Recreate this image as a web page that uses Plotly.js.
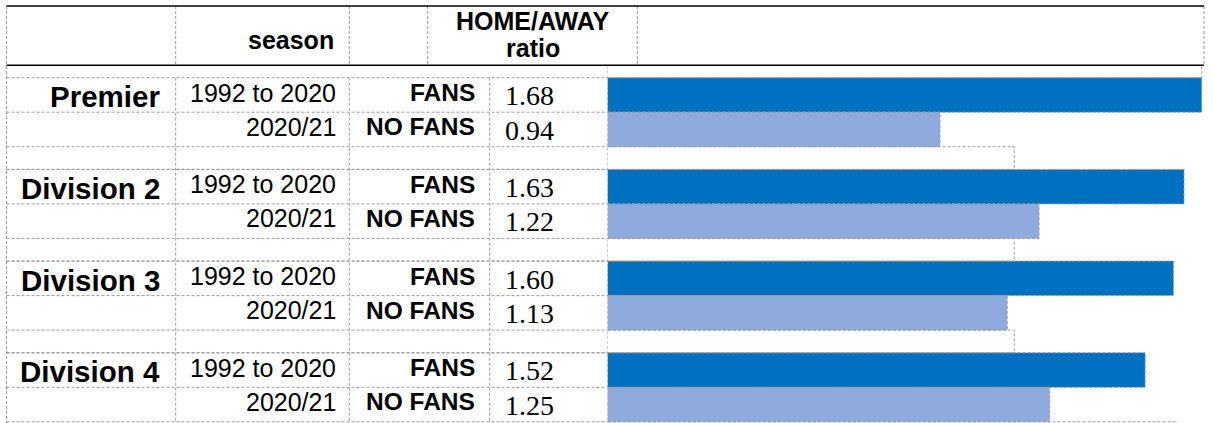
<!DOCTYPE html>
<html><head><meta charset="utf-8">
<script src="https://cdn.plot.ly/plotly-3.0.1.min.js"></script>
<style>html,body{margin:0;padding:0;background:#fff;} #chart{width:1213px;height:423px;}</style>
</head><body><div id="chart"></div>
<script>
// ---- data ----
const divisions = ['Premier', 'Division 2', 'Division 3', 'Division 4'];
const seasons = ['1992 to 2020', '2020/21'];
const crowdLabels = ['FANS', 'NO FANS'];
const fansRatio = [1.68, 1.63, 1.60, 1.52];
const noFansRatio = [0.94, 1.22, 1.13, 1.25];
const spacerValues = [1.68, 1.15, 1.15, 1.15, 1.61];
const headerSeason = 'season';
const headerRatio = ['HOME/AWAY', 'ratio'];

// ---- geometry / style ----
const W = 1213, H = 423;
const HEAD_TOP = 6, HEAD_BOT = 65.3, BODY_TOP = 77.7, ROW_H = 34.5, GAP_H = 22.7;
const GROUP_H = 2 * ROW_H + GAP_H;
const BAR_X0 = 607.5, PX_PER_UNIT = 353.7;
const COL = { left: 6.5, c1: 175.7, c2: 349.3, c3: 489.7, hc3: 427.7, hc4: 637.3, right: 1204 };
const DARK = '#0070C0', LIGHT = '#8FAADC', GRID = '#9a9a9a';
const SANS = 'Liberation Sans, Arial, sans-serif';
const SERIF = 'Liberation Serif, Times New Roman, serif';
const DASH = '3px,2px';

function rowTop(g, r) { return BODY_TOP + g * GROUP_H + r * ROW_H; }
const px = v => v / W;

const fansY = divisions.map((d, g) => rowTop(g, 0) + ROW_H / 2);
const noFansY = divisions.map((d, g) => rowTop(g, 1) + ROW_H / 2);
const spacerY = spacerValues.map((v, i) => i === 0 ? (HEAD_BOT + BODY_TOP) / 2 : rowTop(i - 1, 2) + GAP_H / 2);
const spacerW = spacerValues.map((v, i) => i === 0 ? BODY_TOP - HEAD_BOT : GAP_H);

const traces = [
  { type: 'bar', orientation: 'h', x: spacerValues, y: spacerY, width: spacerW,
    marker: { color: 'rgba(255,255,255,0)', line: { width: 0 } }, hoverinfo: 'skip' },
  { type: 'bar', orientation: 'h', x: fansRatio, y: fansY, width: ROW_H,
    marker: { color: DARK, line: { width: 0 } }, hoverinfo: 'skip' },
  { type: 'bar', orientation: 'h', x: noFansRatio, y: noFansY, width: ROW_H,
    marker: { color: LIGHT, line: { width: 0 } }, hoverinfo: 'skip' }
];

const shapes = [];
// dashed outlines of every bar (through the data axes)
function outline(xs, ys, ws) {
  xs.forEach((v, i) => {
    const w = Array.isArray(ws) ? ws[i] : ws;
    shapes.push({ type: 'rect', xref: 'x', yref: 'y', x0: 0, x1: v, y0: ys[i] - w / 2, y1: ys[i] + w / 2,
      line: { color: GRID, width: 1, dash: DASH }, fillcolor: 'rgba(0,0,0,0)' });
  });
}
outline(spacerValues, spacerY, spacerW);
outline(fansRatio, fansY, ROW_H);
outline(noFansRatio, noFansY, ROW_H);

function hline(y, x0, x1, color, width, dash) {
  shapes.push({ type: 'line', xref: 'paper', yref: 'y', x0: px(x0), x1: px(x1), y0: y, y1: y,
    line: { color: color, width: width, dash: dash || 'solid' } });
}
function vline(x, y0, y1, color, width, dash) {
  shapes.push({ type: 'line', xref: 'paper', yref: 'y', x0: px(x), x1: px(x), y0: y0, y1: y1,
    line: { color: color, width: width, dash: dash || 'solid' } });
}
// table grid: body rows
divisions.forEach((d, g) => {
  hline(rowTop(g, 0), COL.left, BAR_X0, GRID, 1, DASH);
  hline(rowTop(g, 1), COL.left, BAR_X0, GRID, 1, DASH);
  hline(rowTop(g, 2), COL.left, BAR_X0, GRID, 1, DASH);
  hline(rowTop(g, 2) + GAP_H, COL.left, BAR_X0, GRID, 1, DASH);
});
// body verticals
vline(COL.left, HEAD_TOP, H, GRID, 1, DASH);
[COL.c1, COL.c2, COL.c3].forEach(x => vline(x, BODY_TOP, H, GRID, 1, DASH));
// header verticals
[COL.c1, COL.c2, COL.hc3, COL.hc4, COL.right].forEach(x => vline(x, HEAD_TOP, HEAD_BOT, GRID, 1, DASH));
// header solid rules
hline(HEAD_TOP, COL.left, COL.right, '#000', 1.6);
hline(HEAD_BOT, COL.left, COL.right, '#000', 1.6);

const annotations = [];
function label(text, x, y, anchor, font, yanchor) {
  annotations.push({ text: text, xref: 'paper', yref: 'y', x: px(x), y: y, xanchor: anchor,
    yanchor: yanchor || 'middle', showarrow: false, font: font, borderpad: 0 });
}
const fDiv = { family: SANS, size: 29.5, color: '#000', weight: 'bold' };
const fReg = { family: SANS, size: 25, color: '#000' };
const fBold = { family: SANS, size: 24.5, color: '#000', weight: 'bold' };
const fHead = { family: SANS, size: 25, color: '#000', weight: 'bold' };
const fVal = { family: SERIF, size: 28, color: '#000' };

label(headerSeason, 335, 40, 'right', fHead);
label(headerRatio[0], 532.5, 36, 'center', fHead, 'bottom');
label(headerRatio[1], 532.5, 33, 'center', fHead, 'top');

divisions.forEach((d, g) => {
  label(d, 161, rowTop(g, 0) + 19, 'right', fDiv);
  label(seasons[0], 336.5, rowTop(g, 0) + 15, 'right', fReg);
  label(seasons[1], 336.5, rowTop(g, 1) + 14.5, 'right', fReg);
  label(crowdLabels[0], 476, rowTop(g, 0) + 15, 'right', fBold);
  label(crowdLabels[1], 476, rowTop(g, 1) + 14.5, 'right', fBold);
  label(fansRatio[g].toFixed(2), 504, rowTop(g, 0) + 18, 'left', fVal);
  label(noFansRatio[g].toFixed(2), 504, rowTop(g, 1) + 18, 'left', fVal);
});

const layout = {
  width: W, height: H,
  margin: { l: 0, r: 0, t: 0, b: 0, pad: 0 },
  paper_bgcolor: '#fff', plot_bgcolor: 'rgba(0,0,0,0)',
  showlegend: false, hovermode: false, barmode: 'overlay',
  xaxis: { domain: [BAR_X0 / W, 1], range: [0, (W - BAR_X0) / PX_PER_UNIT], visible: false, fixedrange: true },
  yaxis: { domain: [0, 1], range: [H, 0], visible: false, fixedrange: true },
  shapes: shapes, annotations: annotations
};
Plotly.newPlot('chart', traces, layout, { staticPlot: true, displayModeBar: false });
</script>
</body></html>
